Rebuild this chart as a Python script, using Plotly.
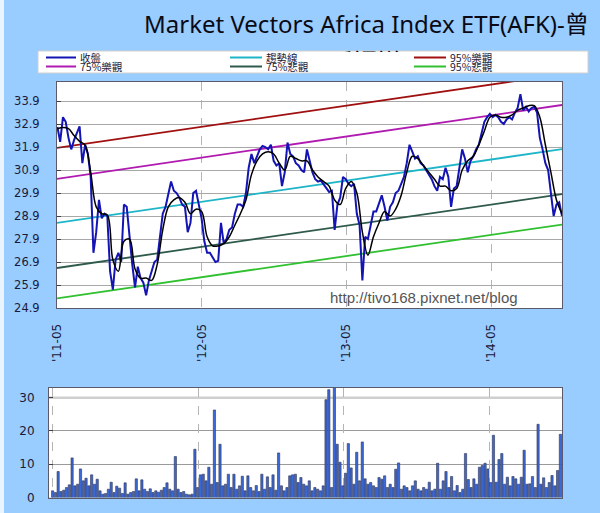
import pandas as pd
import plotly.graph_objects as go

W, H = 600, 513

# ---------------- data ----------------
start_week = "2011-05-02"
close = [32.78, 32.13, 33.2, 33.0, 32.3, 31.8, 32.2, 32.5, 32.8, 31.2, 32.0, 31.6, 30.6, 27.3, 28.2, 29.6,
         28.8, 29.0, 28.9, 26.5, 25.7, 27.0, 27.3, 26.9, 29.4, 29.3, 27.9, 26.8, 25.8, 26.7, 26.2, 26.0,
         25.45, 26.1, 26.5, 26.9, 27.0, 28.1, 29.0, 29.3, 29.8, 30.4, 30.0, 29.9, 29.7, 29.4, 29.3, 28.2,
         28.6, 29.9, 30.0, 29.4,
         28.8, 27.8, 27.3, 27.3, 27.1, 26.9, 26.95, 28.6, 27.7, 27.9, 28.3, 28.4, 29.0, 29.4, 29.4, 29.3,
         29.9, 31.0, 31.6, 31.2, 31.5, 31.8, 31.95, 31.9, 31.8, 32.0, 31.3, 31.1, 31.2, 30.2, 30.8, 32.1,
         31.6, 31.5, 31.2, 31.1, 30.9, 30.8, 31.8, 31.3, 30.8, 30.5, 30.4, 30.45, 30.3, 30.1, 29.95, 30.0,
         28.3, 29.4, 29.7, 30.6, 30.5, 30.3, 30.2, 30.3, 29.0, 28.5, 26.1, 28.0, 27.9, 28.5, 29.1, 29.1,
         29.5, 29.8, 29.3, 28.7, 29.3, 29.5, 29.9, 30.0, 30.3, 30.6, 31.2, 32.0, 31.7, 31.4, 31.5, 31.2,
         31.1, 30.9, 30.7, 30.5, 30.2, 30.0, 30.6, 30.5, 31.0, 30.6, 29.3, 30.1, 30.2, 31.0, 31.8, 31.4,
         30.8, 31.3, 31.5, 31.8, 32.0, 32.5, 33.0, 33.2, 33.35, 33.2, 33.3, 33.2, 33.0, 32.9, 33.1, 33.2,
         33.1, 33.4, 33.6, 34.2, 33.5, 33.65, 33.45, 33.6, 33.65, 33.4, 32.3, 31.8, 31.2, 30.9, 30.0, 28.9,
         29.4, 29.5, 28.9]

moving_avg = [32.7, 32.75, 32.7, 32.4, 32.15, 31.98, 30.8, 29.3, 29.0, 28.95, 27.0, 26.5, 27.8, 27.9,
              26.6, 26.2, 26.2, 26.1, 26.8, 28.3, 29.3, 29.6, 29.7, 29.5, 29.0, 29.2,
              29.1, 28.0, 27.6, 27.6, 27.7, 28.0, 28.5, 29.0, 29.6, 30.7, 31.3, 31.6, 31.7, 31.6, 31.2,
              30.9, 31.5, 31.4, 31.3, 31.3, 30.9, 30.6, 30.4, 30.2, 29.6, 29.4, 30.1, 30.4, 29.9, 28.2,
              27.2, 28.0, 28.6, 29.1, 28.9, 29.2, 29.8, 30.8, 31.5, 31.4, 31.1, 30.8, 30.5, 30.2, 30.2,
              30.0, 30.1, 30.9, 31.3, 31.5, 32.0, 32.6, 33.2, 33.3, 33.2, 33.2, 33.3, 33.5, 33.6, 33.7,
              33.7, 33.2, 32.0, 30.8, 29.6, 29.0]

volume = [2.0, 1.5, 7.8, 1.8, 2.2, 3.0, 3.8, 11.9, 3.5, 4.0, 8.6, 5.0, 5.8, 3.5, 6.8, 4.0, 5.5, 2.0,
          1.0, 1.2, 2.5, 4.6, 1.5, 3.4, 2.8, 1.2, 4.4, 1.0, 1.5, 1.8, 5.6, 2.0, 5.3, 2.5, 1.8, 2.6,
          1.5, 2.0, 1.6, 2.2, 3.0, 4.4, 2.5, 2.0, 12.3, 2.5, 1.5, 1.8, 1.0, 0.8, 1.0, 14.5, 3.0, 6.8,
          7.0, 5.0, 9.1, 4.0, 26.3, 4.5, 16.0, 3.5, 4.0, 7.0, 3.0, 7.0, 2.5, 3.5, 6.4, 2.0, 6.5, 3.0,
          2.0, 3.6, 1.8, 7.0, 2.5, 6.2, 3.0, 6.8, 2.2, 13.4, 3.5, 2.0, 3.0, 6.5, 6.8, 7.0, 4.5, 6.0,
          4.0, 3.5, 5.0, 2.0, 3.0, 2.5, 2.0, 3.5, 29.4, 32.4, 3.0, 33.6, 16.0, 10.6, 3.5, 7.3, 16.2,
          8.9, 4.0, 13.6, 5.0, 16.7, 5.6, 4.0, 4.5, 3.5, 3.0, 6.0, 5.5, 6.5, 3.0, 4.0, 3.0, 8.5, 10.4,
          2.5, 3.5, 3.0, 2.0, 3.5, 5.0, 2.5, 2.0, 3.0, 2.5, 4.6, 2.0, 2.5, 10.3, 2.5, 5.0, 7.8, 3.0,
          6.3, 2.0, 3.6, 1.5, 2.5, 13.2, 5.4, 3.0, 5.6, 4.0, 9.1, 9.6, 10.3, 8.6, 4.5, 18.7, 4.6, 11.4,
          13.2, 4.0, 6.1, 3.5, 6.3, 5.6, 4.0, 6.1, 14.2, 4.0, 4.1, 6.3, 3.0, 22.0, 4.0, 5.9, 3.0, 4.5,
          6.6, 3.5, 8.1, 19.0]

band_dates = ["2011-05-01", "2014-10-27"]
trend = [28.6, 31.81]
opt95 = [31.86, 35.07]
opt75 = [30.52, 33.73]
pes75 = [26.64, 29.85]
pes95 = [25.32, 28.53]

legend_names = ["收盤", "趨勢線", "95%樂觀", "75%樂觀", "75%悲觀", "95%悲觀"]
title_line1 = "Market Vectors Africa Index ETF(AFK)-曾"
title_line2 = "氏通道"
watermark = "http://tivo168.pixnet.net/blog"
y_ticks_price = [24.9, 25.9, 26.9, 27.9, 28.9, 29.9, 30.9, 31.9, 32.9, 33.9]
y_ticks_vol = [0, 10, 20, 30]
vol_dark_grid = [10, 20]
vol_light_grid = 30

# ---------------- styles ----------------
C_CLOSE = "#1414B4"
C_TREND = "#1FB5C8"
C_OPT95 = "#A01010"
C_OPT75 = "#B01AB0"
C_PES75 = "#2E5A4A"
C_PES95 = "#30C030"
BG = "#99CCFF"
TXT = "#1A1A3A"
FONT = "DejaVu Sans"
CJK = "Noto Sans CJK TC"
TITLE_FONT = "Noto Sans, Noto Sans CJK TC"

dates_w = pd.date_range(start_week, periods=len(close), freq="7D")
dates_ma = pd.date_range(start_week, periods=len(moving_avg), freq="14D")
dates_v = pd.date_range(start_week, periods=len(volume), freq="7D")


def px(x):
    return x / W


def py(y):
    return 1 - y / H


fig = go.Figure()

band_defs = [(opt95, C_OPT95), (opt75, C_OPT75), (trend, C_TREND), (pes75, C_PES75), (pes95, C_PES95)]
for vals, col in band_defs:
    fig.add_trace(go.Scatter(x=band_dates, y=vals, mode="lines", line=dict(color=col, width=1.8),
                             xaxis="x", yaxis="y", showlegend=False, hoverinfo="skip"))

fig.add_trace(go.Scatter(x=dates_w, y=close, mode="lines", line=dict(color=C_CLOSE, width=2),
                         xaxis="x", yaxis="y", showlegend=False))
fig.add_trace(go.Scatter(x=dates_ma, y=moving_avg, mode="lines", line=dict(color="#000000", width=1.5, shape="spline"),
                         xaxis="x", yaxis="y", showlegend=False))

fig.add_trace(go.Bar(x=dates_v, y=volume, marker=dict(color="#3A68D6", line=dict(color="#303450", width=0.6)),
                     xaxis="x2", yaxis="y2", showlegend=False))

fig.update_layout(
    width=W, height=H, autosize=False,
    margin=dict(l=0, r=0, t=0, b=0, pad=0, autoexpand=False),
    paper_bgcolor=BG, plot_bgcolor="#FFFFFF",
    bargap=0.2,
    showlegend=False,
    hovermode=False,
    xaxis=dict(domain=[px(57), px(562)], type="date", range=["2011-05-01", "2014-10-27"], automargin=False,
               tickmode="linear", tick0="2011-05-01", dtick="M12", tickformat="'%y-%m",
               tickangle=-90, tickfont=dict(family=FONT, size=12, color=TXT),
               showgrid=True, gridcolor="#B4B4B4", griddash="dash", gridwidth=1,
               showline=True, linecolor="#5A5A6A", linewidth=1, mirror=True, ticks="",
               ticklabelstandoff=10, zeroline=False),
    yaxis=dict(domain=[py(308), py(82)], range=[24.9, 34.73], automargin=False,
               tickmode="array", tickvals=y_ticks_price, ticktext=[f"{v:.1f}" for v in y_ticks_price],
               tickfont=dict(family=FONT, size=11.5, color=TXT),
               showgrid=True, gridcolor="#A8A8A8", gridwidth=1,
               showline=True, linecolor="#5A5A6A", linewidth=1, mirror=True,
               ticks="inside", ticklen=4, tickcolor="#404040",
               ticklabelstandoff=14, zeroline=False),
    xaxis2=dict(domain=[px(49), px(562)], type="date", range=["2011-04-23", "2014-10-31"], automargin=False,
                tickmode="linear", tick0="2011-05-01", dtick="M12", showticklabels=False,
                showgrid=True, gridcolor="#B4B4B4", griddash="dash", gridwidth=1,
                showline=True, linecolor="#5A5A6A", linewidth=1, mirror=True, ticks="",
                anchor="y2", zeroline=False),
    yaxis2=dict(domain=[py(497.5), py(388)], range=[0, 32.9], automargin=False,
                tickmode="array", tickvals=y_ticks_vol,
                tickfont=dict(family=FONT, size=12, color=TXT),
                showgrid=False,
                minor=dict(tickmode="array", tickvals=vol_dark_grid, showgrid=True,
                           gridcolor="#9A9A9A", gridwidth=1, ticks=""),
                showline=True, linecolor="#5A5A6A", linewidth=1, mirror=True,
                ticks="inside", ticklen=4, tickcolor="#404040",
                ticklabelstandoff=11, anchor="x2", zeroline=False),
)

shapes = []
# left light strip
shapes.append(dict(type="rect", xref="paper", yref="paper", x0=0, x1=px(4), y0=0, y1=1,
                   fillcolor="#EAF4FF", line=dict(width=0), layer="below"))
# light upper gridline of the volume panel
shapes.append(dict(type="line", xref="x2 domain", yref="y2", x0=0, x1=1, y0=vol_light_grid, y1=vol_light_grid,
                   line=dict(color="#CFCFCF", width=2.5), layer="below"))
# legend box
shapes.append(dict(type="rect", xref="paper", yref="paper", x0=px(38), x1=px(588), y0=py(73), y1=py(51),
                   fillcolor="#FFFFFF", line=dict(color="#D0D0D0", width=1), layer="above"))
leg_colors = [C_CLOSE, C_TREND, C_OPT95, C_OPT75, C_PES75, C_PES95]
col_line_x = [(46, 76), (230, 262), (414, 446)]
col_text_x = [78, 264, 448]
row_y = [57.5, 66.5]
annotations = []
for k, name in enumerate(legend_names):
    r, c = divmod(k, 3)
    x0, x1 = col_line_x[c]
    shapes.append(dict(type="line", xref="paper", yref="paper", x0=px(x0), x1=px(x1),
                       y0=py(row_y[r]), y1=py(row_y[r]), line=dict(color=leg_colors[k], width=2),
                       layer="above"))
    annotations.append(dict(text=name, xref="paper", yref="paper", x=px(col_text_x[c]), y=py(row_y[r]),
                            xanchor="left", yanchor="middle", showarrow=False,
                            font=dict(family=CJK, size=10.5, color=TXT)))

annotations.append(dict(text=title_line1, xref="paper", yref="paper", x=px(366), y=py(5),
                        xanchor="center", yanchor="top", showarrow=False,
                        font=dict(family=TITLE_FONT, size=24, color="#0A0A14")))
# second title line, mostly hidden behind the legend box (only its top shows)
annotations.append(dict(text=title_line2, xref="paper", yref="paper", x=px(366), y=py(44),
                        xanchor="center", yanchor="top", showarrow=False, height=7, width=120,
                        valign="top", borderpad=0,
                        font=dict(family=TITLE_FONT, size=24, color="#0A0A14")))
annotations.append(dict(text=watermark, xref="paper", yref="paper", x=px(424), y=py(297),
                        xanchor="center", yanchor="middle", showarrow=False,
                        font=dict(family="Liberation Sans", size=15, color="#555555")))

fig.update_layout(shapes=shapes, annotations=annotations)
fig.write_html(
    "out.html",
    config={"displayModeBar": False, "responsive": False},
    post_script=(
        "document.documentElement.style.margin='0';document.documentElement.style.padding='0';"
        "document.documentElement.style.overflow='hidden';"
        "document.body.style.margin='0';document.body.style.padding='0';"
        "document.body.style.overflow='hidden';"
    ),
)
